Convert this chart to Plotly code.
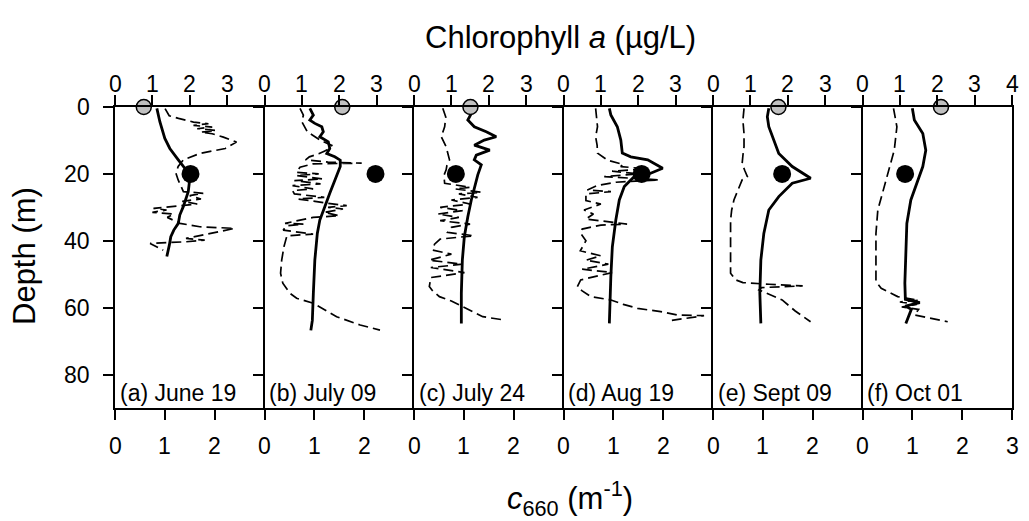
import plotly.graph_objects as go

# ---------------- data ----------------
panel_labels = ["(a) June 19", "(b) July 09", "(c) July 24", "(d) Aug 19", "(e) Sept 09", "(f) Oct 01"]
depth_ticks = [0, 20, 40, 60, 80]
c660_ticks = [0, 1, 2]          # last panel also shows 3
chl_ticks = [0, 1, 2, 3]        # last panel also shows 4

# c660 profiles (m^-1), solid lines, bottom axis
c660_depth_a = [0.4, 4.4, 9.4, 12.4, 15.8, 18.3, 20.3, 22.8, 25.3, 27.8, 29.8, 32.3, 34.8, 36.8, 38.8, 41.3, 44.7]
c660_a = [0.84, 0.90, 1.00, 1.10, 1.27, 1.40, 1.47, 1.49, 1.47, 1.42, 1.37, 1.30, 1.27, 1.18, 1.12, 1.09, 1.04]
c660_depth_b = [0.4, 2.4, 3.9, 4.9, 5.9, 7.4, 8.9, 10.4, 12.4, 13.9, 14.9, 15.9, 17.8, 20.3, 23.3, 25.8, 29.8, 33.8, 37.8, 45.8, 55.8, 63.8, 66.8]
c660_b = [0.91, 0.98, 0.91, 1.01, 1.15, 1.18, 1.11, 1.28, 1.31, 1.25, 1.41, 1.52, 1.52, 1.45, 1.38, 1.31, 1.21, 1.11, 1.06, 1.01, 0.98, 0.96, 0.93]
c660_depth_c = [0.4, 1.9, 3.9, 5.9, 7.4, 8.9, 9.9, 11.4, 12.9, 14.4, 15.8, 17.3, 20.3, 24.3, 27.8, 32.8, 38.8, 45.8, 55.7, 64.7]
c660_c = [1.14, 1.15, 1.08, 1.21, 1.45, 1.65, 1.41, 1.21, 1.52, 1.25, 1.21, 1.35, 1.28, 1.21, 1.15, 1.08, 1.01, 0.97, 0.95, 0.95]
c660_depth_d = [0.4, 2.4, 5.9, 9.9, 13.8, 14.9, 15.8, 18.3, 19.8, 20.8, 23.8, 27.8, 33.8, 41.8, 50.7, 64.7]
c660_d = [0.92, 0.95, 1.08, 1.15, 1.18, 1.35, 1.69, 1.99, 1.75, 1.42, 1.22, 1.12, 1.05, 0.98, 0.95, 0.92]
c660_depth_e = [0.4, 2.9, 5.9, 9.9, 13.9, 15.9, 17.8, 21.3, 22.8, 26.8, 30.8, 37.8, 45.8, 55.7, 64.7]
c660_e = [1.12, 1.09, 1.12, 1.22, 1.32, 1.46, 1.59, 1.96, 1.59, 1.32, 1.12, 1.02, 0.96, 0.94, 0.96]
c660_depth_f = [0.4, 3.9, 7.9, 12.9, 17.8, 23.3, 27.8, 34.8, 42.8, 52.7, 57.5, 58.5, 59.5, 60.5, 64.7]
c660_f = [1.00, 1.04, 1.21, 1.27, 1.21, 1.07, 0.97, 0.89, 0.87, 0.85, 0.86, 1.15, 0.86, 0.98, 0.87]

# fluorescence chlorophyll profiles (ug/L), dashed lines, top axis
chl_depth_a = [0.5, 2.6, 3.4, 4.5, 5, 5.5, 6, 6.5, 7, 7.5, 8, 9, 10.5, 11.5, 12.4, 13.9, 15.8, 17.8, 19.8, 21.8, 23.8, 25.3, 25.8, 26.5, 27.5, 28.2, 29, 30.3, 30.8, 31.5, 32, 33, 34.8, 35.8, 36.3, 37.8, 38.5, 39.3, 39.8, 40.3, 40.8, 42.8]
chl_a = [1.34, 1.45, 1.70, 2.10, 2.50, 2.10, 2.60, 2.20, 2.70, 2.30, 2.60, 2.90, 3.25, 3.10, 2.95, 2.27, 1.83, 1.69, 1.63, 1.69, 1.78, 1.83, 2.36, 2.00, 2.30, 1.80, 2.20, 1.03, 1.38, 1.00, 1.57, 1.40, 1.74, 2.27, 3.20, 2.54, 2.30, 1.90, 2.40, 1.90, 0.94, 1.29]
chl_depth_b = [0.4, 2.4, 4.4, 5.9, 7.5, 8.5, 10, 11.5, 12.4, 13.2, 14.0, 14.9, 15.8, 16.5, 16.8, 17, 18, 19.5, 20, 20.5, 21.5, 22, 23, 23.5, 24.5, 25, 26, 27, 27.5, 28.8, 29.5, 30, 30.5, 31.5, 32.5, 33, 34.8, 35, 35.5, 36.8, 38, 38.5, 41.8, 45.8, 49.7, 52.7, 55.7, 57.2, 58.7, 62.7, 65.2, 66.7]
chl_b = [0.95, 1.04, 1.00, 1.08, 1.15, 1.30, 1.50, 1.80, 1.75, 1.60, 1.45, 1.20, 1.10, 1.70, 2.60, 1.30, 0.95, 0.85, 1.45, 0.85, 1.55, 0.80, 1.50, 0.75, 1.30, 0.75, 0.80, 1.60, 0.90, 1.70, 2.20, 1.70, 2.10, 1.60, 2.00, 1.30, 0.55, 1.04, 0.60, 0.50, 1.30, 0.60, 0.52, 0.46, 0.43, 0.49, 0.68, 0.86, 1.31, 1.93, 2.56, 3.09]
chl_depth_c = [0.4, 3, 5.9, 8.9, 11.9, 14, 15.8, 17.5, 18.8, 20.5, 22.8, 24, 24.5, 25.5, 26, 27, 27.8, 29, 30, 31, 32, 33, 34, 35, 36, 37.5, 38.5, 39.5, 41, 42.8, 44, 45.8, 47, 48, 49.5, 51, 53.7, 55, 56.7, 58, 59.7, 62.7, 63.7]
chl_c = [0.77, 0.85, 0.82, 0.73, 0.86, 0.90, 0.95, 0.88, 0.86, 0.80, 0.82, 1.50, 1.10, 1.80, 1.20, 1.70, 1.00, 1.50, 0.70, 1.30, 0.64, 1.20, 0.70, 1.50, 1.00, 0.90, 1.60, 0.70, 0.55, 0.50, 1.00, 0.41, 1.30, 0.45, 1.35, 0.45, 0.41, 0.50, 0.68, 1.00, 1.31, 1.84, 2.42]
chl_depth_d = [0.4, 3, 5.9, 8.9, 11.5, 13.8, 15.9, 17.2, 17.8, 18.5, 19.2, 20, 20.8, 21.8, 22.5, 23.5, 24.8, 25.3, 26, 28, 29, 30.8, 32, 33.5, 35, 35.3, 36.5, 37.8, 40, 41.8, 43, 44.5, 45.8, 47, 48.5, 49.5, 51.7, 53.7, 55, 56.7, 57.7, 59, 60.2, 61.2, 62.2, 62.4, 63.2, 63.8]
chl_d = [0.86, 0.88, 0.91, 0.86, 0.90, 0.91, 1.18, 1.60, 1.53, 2.20, 1.30, 2.00, 1.09, 2.56, 1.40, 0.90, 0.64, 1.27, 0.60, 0.60, 1.00, 0.55, 0.80, 0.60, 1.70, 1.00, 0.50, 0.46, 0.60, 0.51, 0.45, 1.00, 0.60, 1.20, 0.50, 1.30, 0.46, 0.37, 0.50, 0.73, 1.27, 1.60, 1.98, 2.60, 3.05, 3.76, 3.32, 2.90]
chl_depth_e = [0.4, 4, 8, 11.9, 14.5, 16.9, 19, 20.8, 21.8, 24, 25.3, 27.8, 30.8, 33.8, 37.8, 41.8, 45.8, 49.7, 51.7, 52.5, 53, 53.5, 54, 54.7, 56, 57.7, 61, 64.2]
chl_e = [0.83, 0.80, 0.83, 0.83, 0.80, 0.78, 0.85, 0.92, 0.78, 0.70, 0.65, 0.56, 0.50, 0.47, 0.47, 0.47, 0.46, 0.47, 0.61, 0.80, 1.50, 2.40, 1.30, 1.23, 1.50, 1.85, 2.20, 2.61]
chl_depth_f = [0.4, 5.9, 12.9, 19.8, 25.8, 30.8, 37.8, 44.8, 52.2, 54.2, 56.7, 57.8, 58.3, 59, 59.8, 60.5, 62.2, 64.2]
chl_f = [0.83, 0.92, 0.85, 0.68, 0.54, 0.41, 0.36, 0.36, 0.36, 0.50, 0.94, 1.50, 1.00, 1.45, 1.05, 1.50, 1.39, 2.28]

# discrete chlorophyll samples (ug/L): surface (grey) and 20 m (black)
surface_chl = [0.77, 2.08, 1.51, None, 1.75, 2.10]
deep_chl = [2.02, 2.97, 1.12, 2.09, 1.85, 1.14]
surface_depth = 0
deep_depth = 20

c660_depths = [c660_depth_a, c660_depth_b, c660_depth_c, c660_depth_d, c660_depth_e, c660_depth_f]
c660_vals = [c660_a, c660_b, c660_c, c660_d, c660_e, c660_f]
chl_depths = [chl_depth_a, chl_depth_b, chl_depth_c, chl_depth_d, chl_depth_e, chl_depth_f]
chl_vals = [chl_a, chl_b, chl_c, chl_d, chl_e, chl_f]

# ---------------- figure ----------------
FONT = "Liberation Sans, Arial, sans-serif"
W, H = 1029, 521
ML, MR, MT, MB = 115, 17, 107, 113
PW = W - ML - MR
PH = H - MT - MB
TICK_FONT = dict(family=FONT, size=23, color="black")

def py2paper(py):
    return (H - MB - py) / PH

def px2paper(px):
    return (px - ML) / PW

def ax(prefix, k):
    return prefix if k == 1 else f"{prefix}{k}"

fig = go.Figure()
n = 6
layout = {}
annotations = []
for i in range(n):
    xb = ax("x", i + 1)
    xt = ax("x", i + 7)
    yy = ax("y", i + 1)
    last = (i == n - 1)
    bticks = c660_ticks + ([3] if last else [])
    tticks = chl_ticks + ([4] if last else [])
    axis_common = dict(showline=True, linecolor="black", linewidth=2, ticks="outside",
                       ticklen=10, tickwidth=2, tickcolor="black", showgrid=False,
                       zeroline=False, showticklabels=False)
    layout[ax("xaxis", i + 1)] = dict(domain=[i / n, (i + 1) / n], range=[0, 3], anchor=yy,
                                      tickvals=bticks, **axis_common)
    layout[ax("xaxis", i + 7)] = dict(overlaying=xb, side="top", range=[0, 4], anchor=yy,
                                      tickvals=tticks, **axis_common)
    layout[ax("yaxis", i + 1)] = dict(domain=[0, 1], range=[90, 0], anchor=xb,
                                      tickvals=depth_ticks, mirror=True if last else False,
                                      **axis_common)

    # tick labels placed on the axes' own scales
    for v in bticks:
        annotations.append(dict(text=str(v), xref=xb, x=v, yref="paper", y=py2paper(446),
                                xanchor="center", yanchor="middle", showarrow=False, font=TICK_FONT))
    for v in tticks:
        annotations.append(dict(text=str(v), xref=xt, x=v, yref="paper", y=py2paper(84),
                                xanchor="center", yanchor="middle", showarrow=False, font=TICK_FONT))

    fig.add_trace(go.Scatter(x=chl_vals[i], y=chl_depths[i], xaxis=xt, yaxis=yy, mode="lines",
                             line=dict(color="black", width=1.7, dash="10px,5px"), showlegend=False))
    fig.add_trace(go.Scatter(x=c660_vals[i], y=c660_depths[i], xaxis=xb, yaxis=yy, mode="lines",
                             line=dict(color="black", width=2.8), showlegend=False))
    if surface_chl[i] is not None:
        fig.add_trace(go.Scatter(x=[surface_chl[i]], y=[surface_depth], xaxis=xt, yaxis=yy,
                                 mode="markers", cliponaxis=False,
                                 marker=dict(size=15, color="#c0c0c0", line=dict(color="black", width=1.5)),
                                 showlegend=False))
    fig.add_trace(go.Scatter(x=[deep_chl[i]], y=[deep_depth], xaxis=xt, yaxis=yy,
                             mode="markers", cliponaxis=False,
                             marker=dict(size=18, color="black"), showlegend=False))

for d in depth_ticks:
    annotations.append(dict(text=str(d), xref="paper", x=px2paper(92), yref="y", y=d,
                            xanchor="right", yanchor="middle", showarrow=False, font=TICK_FONT))

for i in range(n):
    annotations.append(dict(text=panel_labels[i], xref=ax("x", i + 1) + " domain", yref="paper",
                            x=0.02, y=py2paper(393), xanchor="left", yanchor="middle",
                            showarrow=False, font=dict(family=FONT, size=23, color="black")))
annotations.append(dict(text="Chlorophyll <i>a</i> (µg/L)", xref="paper", yref="paper",
                        x=px2paper(560), y=py2paper(37), xanchor="center", yanchor="middle",
                        showarrow=False, font=dict(family=FONT, size=31, color="black")))
annotations.append(dict(text="<i>c</i><sub>660</sub> (m<sup>-1</sup>)", xref="paper", yref="paper",
                        x=px2paper(570), y=py2paper(498), xanchor="center", yanchor="middle",
                        showarrow=False, font=dict(family=FONT, size=31, color="black")))
annotations.append(dict(text="Depth (m)", xref="paper", yref="paper", textangle=-90,
                        x=px2paper(24), y=py2paper(256), xanchor="center", yanchor="middle",
                        showarrow=False, font=dict(family=FONT, size=31, color="black")))

fig.update_layout(width=W, height=H, margin=dict(l=ML, r=MR, t=MT, b=MB),
                  plot_bgcolor="white", paper_bgcolor="white", annotations=annotations,
                  font=dict(family=FONT, color="black"), **layout)

fig.write_html("out.html")
